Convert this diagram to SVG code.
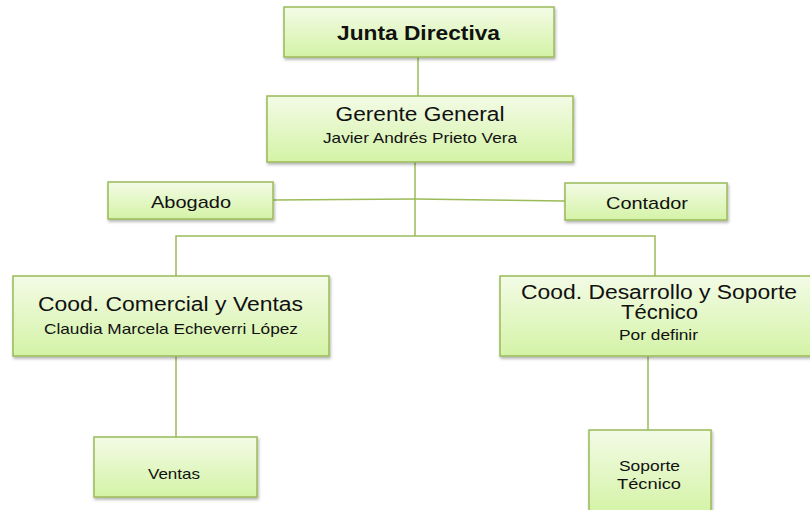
<svg xmlns="http://www.w3.org/2000/svg" width="810" height="510" viewBox="0 0 810 510">
<defs>
<linearGradient id="g" x1="0" y1="0" x2="0" y2="1">
<stop offset="0" stop-color="#f3fbe6"/>
<stop offset="1" stop-color="#d4f3a6"/>
</linearGradient>
<filter id="sh" x="-10%" y="-10%" width="120%" height="130%">
<feDropShadow dx="1" dy="2" stdDeviation="1.5" flood-color="#000" flood-opacity="0.3"/>
</filter>
</defs>
<style>
.box{fill:url(#g);stroke:#9bbb59;stroke-width:1.5;filter:url(#sh)}
.ln{stroke:#9bbb59;stroke-width:1.5;fill:none}
text{font-family:"Liberation Sans",Arial,sans-serif;fill:#111;text-anchor:middle}
.t{font-size:20px}
.s{font-size:15px}
.m{font-size:17px}
</style>
<rect width="810" height="510" fill="#fff"/>
<g id="connectors">
<path class="ln" d="M418 57V96"/>
<path class="ln" d="M415 162V236"/>
<path class="ln" d="M273 200L415 199L565 201"/>
<path class="ln" d="M176 276V236H655V276"/>
<path class="ln" d="M176 356V437"/>
<path class="ln" d="M648 356V430"/>
</g>
<g id="junta">
<rect class="box" x="284" y="7" width="270" height="50"/>
<text x="418.5" y="40" style="font-size:20px;font-weight:bold" textLength="163" lengthAdjust="spacingAndGlyphs">Junta Directiva</text>
</g>
<g id="gerente">
<rect class="box" x="267" y="96" width="306" height="66"/>
<text class="t" x="420" y="121" textLength="169" lengthAdjust="spacingAndGlyphs">Gerente General</text>
<text class="s" x="420" y="143" textLength="194" lengthAdjust="spacingAndGlyphs">Javier Andrés Prieto Vera</text>
</g>
<g id="abogado">
<rect class="box" x="108" y="182" width="165" height="37"/>
<text class="m" x="191" y="208" textLength="80" lengthAdjust="spacingAndGlyphs">Abogado</text>
</g>
<g id="contador">
<rect class="box" x="565" y="183" width="162" height="37"/>
<text class="m" x="647" y="209" textLength="82" lengthAdjust="spacingAndGlyphs">Contador</text>
</g>
<g id="comercial">
<rect class="box" x="13" y="276" width="316" height="80"/>
<text class="t" x="170.5" y="311" textLength="265" lengthAdjust="spacingAndGlyphs">Cood. Comercial y Ventas</text>
<text class="s" x="171" y="334" textLength="254" lengthAdjust="spacingAndGlyphs">Claudia Marcela Echeverri López</text>
</g>
<g id="desarrollo">
<rect class="box" x="500" y="276" width="316" height="80"/>
<text class="t" x="659" y="299" textLength="276" lengthAdjust="spacingAndGlyphs">Cood. Desarrollo y Soporte</text>
<text class="t" x="659.5" y="319" textLength="77" lengthAdjust="spacingAndGlyphs">Técnico</text>
<text class="s" x="658.5" y="340" textLength="79" lengthAdjust="spacingAndGlyphs">Por definir</text>
</g>
<g id="ventas">
<rect class="box" x="94" y="437" width="163" height="60"/>
<text class="s" x="174" y="479" textLength="52" lengthAdjust="spacingAndGlyphs">Ventas</text>
</g>
<g id="soporte">
<rect class="box" x="589" y="430" width="122" height="84"/>
<text class="s" x="649.5" y="471" textLength="61" lengthAdjust="spacingAndGlyphs">Soporte</text>
<text class="s" x="649" y="489" textLength="64" lengthAdjust="spacingAndGlyphs">Técnico</text>
</g>
</svg>
